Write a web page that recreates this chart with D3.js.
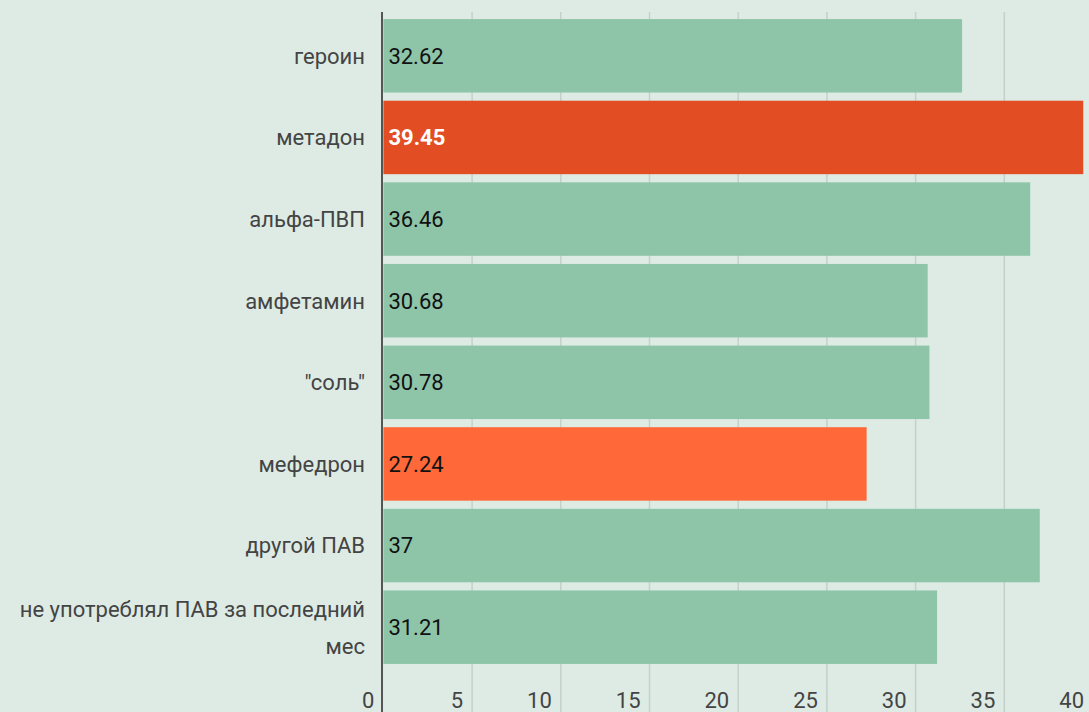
<!DOCTYPE html>
<html lang="ru">
<head>
  <meta charset="UTF-8">
  <title>Bar chart</title>
  <script src="https://cdnjs.cloudflare.com/ajax/libs/d3/7.8.5/d3.min.js"></script>
  <style>
    body { margin: 0; background: #ddebe4; }
    svg { display: block; font-family: Roboto, sans-serif; }
  </style>
</head>
<body>
  <svg width="1089" height="712"></svg>
  <script>
    const categories = ["героин", "метадон", "альфа-ПВП", "амфетамин", "\"соль\"", "мефедрон", "другой ПАВ", "не употреблял ПАВ за последний мес"];
    const values = [32.62, 39.45, 36.46, 30.68, 30.78, 27.24, 37, 31.21];
    const barColors = ["#8ec5a9", "#e34d23", "#8ec5a9", "#8ec5a9", "#8ec5a9", "#ff6838", "#8ec5a9", "#8ec5a9"];
    const labelColors = ["#111", "#fff", "#111", "#111", "#111", "#111", "#111", "#111"];
    const ticks = [0, 5, 10, 15, 20, 25, 30, 35, 40];

    const svg = d3.select("svg");
    const width = +svg.attr("width");
    const height = +svg.attr("height");

    const x = d3.scaleLinear().domain([0, 40]).range([383.4, 1093]);
    const y = d3.scaleBand().domain(categories).range([15, 668]).paddingInner(0.1).paddingOuter(0.05);

    // gridlines
    svg.append("g")
      .selectAll("line")
      .data(ticks.slice(1))
      .enter().append("line")
      .attr("x1", d => x(d)).attr("x2", d => x(d))
      .attr("y1", 12).attr("y2", height)
      .attr("stroke", "#c4d1ca")
      .attr("stroke-width", 1.5);

    // bars
    svg.append("g")
      .selectAll("rect")
      .data(values)
      .enter().append("rect")
      .attr("x", x(0))
      .attr("y", (d, i) => y(categories[i]))
      .attr("width", d => x(d) - x(0))
      .attr("height", y.bandwidth())
      .attr("fill", (d, i) => barColors[i]);

    // value labels
    svg.append("g")
      .selectAll("text")
      .data(values)
      .enter().append("text")
      .attr("x", x(0) + 5)
      .attr("y", (d, i) => y(categories[i]) + y.bandwidth() / 2)
      .attr("dy", "0.36em")
      .attr("font-size", 22)
      .attr("font-weight", (d, i) => i === 1 ? "bold" : "normal")
      .attr("fill", (d, i) => labelColors[i])
      .text(d => d);

    // category labels, wrapped
    const catG = svg.append("g");
    categories.forEach(c => {
      const lines = c.length > 20 ? ["не употреблял ПАВ за последний", "мес"] : [c];
      const cy = y(c) + y.bandwidth() / 2;
      const t = catG.append("text")
        .attr("text-anchor", "end")
        .attr("font-size", 22)
        .attr("fill", "#444");
      lines.forEach((l, j) => {
        t.append("tspan")
          .attr("x", 365)
          .attr("y", cy + (j - (lines.length - 1) / 2) * 37)
          .attr("dy", "0.36em")
          .text(l);
      });
    });

    // x tick labels
    svg.append("g")
      .selectAll("text")
      .data(ticks)
      .enter().append("text")
      .attr("x", d => x(d) - 9)
      .attr("y", 708)
      .attr("text-anchor", "end")
      .attr("font-size", 22)
      .attr("fill", "#444")
      .text(d => d);

    // axis line
    svg.append("line")
      .attr("x1", 382).attr("x2", 382)
      .attr("y1", 12).attr("y2", height)
      .attr("stroke", "#555")
      .attr("stroke-width", 2);
  </script>
</body>
</html>
